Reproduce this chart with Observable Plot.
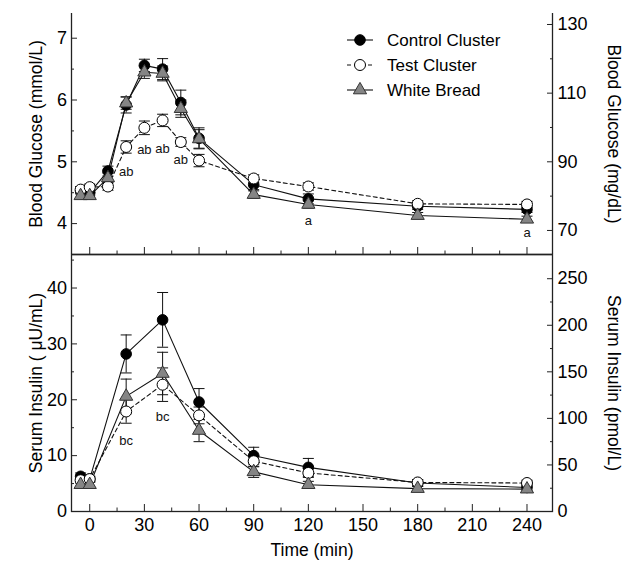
<!DOCTYPE html>
<html><head><meta charset="utf-8">
<script src="https://cdn.jsdelivr.net/npm/d3@7"></script>
<script src="https://cdn.jsdelivr.net/npm/@observablehq/plot@0.6"></script>
<style>
body{margin:0;background:#fff}
#c{position:relative;width:630px;height:564px}
#c>svg,#c>figure{position:absolute;left:0;top:0;margin:0}
</style>
</head><body><div id="c"></div>
<script>
// ---------- data ----------
const seriesNames = ["Control Cluster", "Test Cluster", "White Bread"];

const glucoseTimes = [-5, 0, 10, 20, 30, 40, 50, 60, 90, 120, 180, 240];
const glucoseControl = [4.53, 4.50, 4.85, 5.92, 6.56, 6.50, 5.96, 5.38, 4.63, 4.40, 4.28, 4.23];
const glucoseTest    = [4.55, 4.59, 4.60, 5.24, 5.55, 5.67, 5.32, 5.02, 4.73, 4.60, 4.32, 4.31];
const glucoseWhite   = [4.45, 4.45, 4.74, 5.95, 6.45, 6.43, 5.86, 5.37, 4.47, 4.31, 4.13, 4.07];
const glucoseControlSem = [0.05, 0.05, 0.08, 0.13, 0.10, 0.17, 0.20, 0.17, 0.08, 0.08, 0.05, 0.05];
const glucoseTestSem    = [0.05, 0.05, 0.06, 0.10, 0.11, 0.10, 0.07, 0.10, 0.06, 0.06, 0.05, 0.05];
const glucoseWhiteSem   = [0.05, 0.05, 0.08, 0.10, 0.10, 0.12, 0.14, 0.15, 0.06, 0.06, 0.05, 0.05];

const insulinTimes = [-5, 0, 20, 40, 60, 90, 120, 180, 240];
const insulinControl = [6.3, 5.8, 28.2, 34.3, 19.6, 10.0, 7.9, 5.1, 4.3];
const insulinTest    = [5.6, 5.8, 17.9, 22.7, 17.2, 9.0, 6.9, 5.2, 5.1];
const insulinWhite   = [4.8, 4.8, 20.6, 24.7, 14.5, 7.1, 4.8, 4.1, 4.0];
const insulinControlSem = [0.6, 0.5, 3.4, 4.9, 2.4, 1.5, 1.6, 0.6, 0.5];
const insulinTestSem    = [0.5, 0.5, 2.1, 3.0, 1.5, 1.0, 0.8, 0.5, 0.5];
const insulinWhiteSem   = [0.5, 0.5, 3.1, 3.8, 2.0, 1.0, 0.6, 0.4, 0.4];

// significance annotations (label, time, level)
const glucoseNoteLabels = ["ab", "ab", "ab", "ab", "a", "a"];
const glucoseNoteTimes  = [20, 30, 40, 50, 120, 240];
const glucoseNoteLevels = [4.83, 5.19, 5.21, 5.03, 4.05, 3.85];
const insulinNoteLabels = ["bc", "bc"];
const insulinNoteTimes  = [20, 40];
const insulinNoteLevels = [12.6, 17.0];

// tick labels
const timeTicks = [0, 30, 60, 90, 120, 150, 180, 210, 240];
const timeMinor = [15, 45, 75, 105, 135, 165, 195, 225];
const mmolTicks = [4, 5, 6, 7];
const mmolMinor = [4.5, 5.5, 6.5];
const mgdlTicks = [70, 90, 110, 130];
const mgdlMinor = [80, 100, 120];
const uUTicks = [0, 10, 20, 30, 40];
const uUMinor = [5, 15, 25, 35, 45];
const pmolTicks = [0, 50, 100, 150, 200, 250];
const pmolMinor = [25, 75, 125, 175, 225];

// ---------- helpers ----------
const rows = (times, vals, sems) => times.map((t, i) => ({t, v: vals[i], e: sems[i]}));
const notes = (labels, times, levels) => labels.map((l, i) => ({label: l, t: times[i], v: levels[i]}));
const capSymbol = {draw(ctx, size) { const w = Math.sqrt(size / Math.PI); ctx.moveTo(-w, 0); ctx.lineTo(w, 0); }};

const FONT = "Liberation Sans, Arial, Helvetica, sans-serif";
const AX = "#222";
const TICKFS = 18;
const TITLEFS = 17.5;
const xDomain = [-10, 254];

const styles = [
  {fill: "#000", stroke: "#000", symbol: "circle", r: 5.3, dash: null},
  {fill: "#fff", stroke: "#000", symbol: "circle", r: 5.5, dash: "4,3"},
  {fill: "#858585", stroke: "#333", symbol: "triangle", r: 4.9, dash: null}
];

function seriesMarks(data) {
  const m = [];
  data.forEach((d) => {
    m.push(Plot.ruleX(d, {x: "t", y1: r => r.v - r.e, y2: r => r.v + r.e, stroke: "#111", strokeWidth: 1}));
    m.push(Plot.dot(d, {x: "t", y: r => r.v + r.e, symbol: capSymbol, r: 5.5, stroke: "#111", fill: "none", strokeWidth: 1}));
    m.push(Plot.dot(d, {x: "t", y: r => r.v - r.e, symbol: capSymbol, r: 5.5, stroke: "#111", fill: "none", strokeWidth: 1}));
  });
  data.forEach((d, i) => {
    const s = styles[i];
    m.push(Plot.line(d, {x: "t", y: "v", stroke: "#111", strokeWidth: 1.1, strokeDasharray: s.dash}));
  });
  data.forEach((d, i) => {
    const s = styles[i];
    m.push(Plot.dot(d, {x: "t", y: "v", symbol: s.symbol, r: s.r, fill: s.fill, stroke: s.stroke, strokeWidth: 1}));
  });
  return m;
}

// ---------- top panel: glucose ----------
const gData = [
  rows(glucoseTimes, glucoseControl, glucoseControlSem),
  rows(glucoseTimes, glucoseTest, glucoseTestSem),
  rows(glucoseTimes, glucoseWhite, glucoseWhiteSem)
];
const glucosePlot = Plot.plot({
  width: 630, height: 564,
  marginTop: 13, marginBottom: 310, marginLeft: 71, marginRight: 78,
  style: {fontFamily: FONT, fontSize: TICKFS + "px", background: "transparent", overflow: "visible"},
  x: {domain: xDomain},
  y: {domain: [3.5, 7.4]},
  marks: [
    Plot.ruleX(xDomain, {stroke: AX, strokeWidth: 1.3}),
    Plot.ruleY([3.5], {stroke: AX, strokeWidth: 1.3}),
    Plot.axisY({anchor: "left", ticks: mmolTicks, tickFormat: d => String(d), tickSize: -6, tickPadding: 10.5, label: null, stroke: AX, fill: "#000", fontSize: TICKFS}),
    Plot.axisY({anchor: "left", ticks: mmolMinor, tickSize: -3, tickFormat: () => "", label: null, stroke: AX}),
    Plot.axisY({anchor: "right", ticks: mgdlTicks.map(d => d / 18), tickFormat: d => Math.round(d * 18), tickSize: -6, tickPadding: 11, label: null, stroke: AX, fill: "#000", fontSize: TICKFS}),
    Plot.axisY({anchor: "right", ticks: mgdlMinor.map(d => d / 18), tickSize: -3, tickFormat: () => "", label: null, stroke: AX}),
    Plot.axisX({anchor: "bottom", ticks: timeTicks, tickSize: -7, tickFormat: () => "", label: null, stroke: AX}),
    Plot.axisX({anchor: "bottom", ticks: timeMinor, tickSize: -3.5, tickFormat: () => "", label: null, stroke: AX}),
    ...seriesMarks(gData),
    Plot.text(notes(glucoseNoteLabels, glucoseNoteTimes, glucoseNoteLevels), {x: "t", y: "v", text: "label", fontSize: 13, fill: "#111"}),
    Plot.text(["Blood Glucose (mmol/L)"], {frameAnchor: "left", textAnchor: "middle", rotate: -90, dx: -35, fontSize: TITLEFS, fill: "#000"}),
    Plot.text(["Blood Glucose (mg/dL)"], {frameAnchor: "right", textAnchor: "middle", rotate: 90, dx: 61, fontSize: TITLEFS, fill: "#000"})
  ]
});

// ---------- bottom panel: insulin ----------
const iData = [
  rows(insulinTimes, insulinControl, insulinControlSem),
  rows(insulinTimes, insulinTest, insulinTestSem),
  rows(insulinTimes, insulinWhite, insulinWhiteSem)
];
const insulinPlot = Plot.plot({
  width: 630, height: 564,
  marginTop: 254, marginBottom: 53, marginLeft: 71, marginRight: 78,
  style: {fontFamily: FONT, fontSize: TICKFS + "px", background: "transparent", overflow: "visible"},
  x: {domain: xDomain},
  y: {domain: [0, 46]},
  marks: [
    Plot.frame({stroke: AX, strokeWidth: 1.3}),
    Plot.axisY({anchor: "left", ticks: uUTicks, tickSize: -6, tickPadding: 10.5, label: null, stroke: AX, fill: "#000", fontSize: TICKFS}),
    Plot.axisY({anchor: "left", ticks: uUMinor, tickSize: -3, tickFormat: () => "", label: null, stroke: AX}),
    Plot.axisY({anchor: "right", ticks: pmolTicks.map(d => d / 6), tickFormat: d => Math.round(d * 6), tickSize: -6, tickPadding: 11, label: null, stroke: AX, fill: "#000", fontSize: TICKFS}),
    Plot.axisY({anchor: "right", ticks: pmolMinor.map(d => d / 6), tickSize: -3, tickFormat: () => "", label: null, stroke: AX}),
    Plot.axisX({anchor: "bottom", ticks: timeTicks, tickSize: -7, tickPadding: 14, label: null, stroke: AX, fill: "#000", fontSize: TICKFS}),
    Plot.axisX({anchor: "bottom", ticks: timeMinor, tickSize: -3.5, tickFormat: () => "", label: null, stroke: AX}),
    ...seriesMarks(iData),
    Plot.text(notes(insulinNoteLabels, insulinNoteTimes, insulinNoteLevels), {x: "t", y: "v", text: "label", fontSize: 13, fill: "#111"}),
    Plot.text(["Serum Insulin ( \u03bcU/mL)"], {frameAnchor: "left", textAnchor: "middle", rotate: -90, dx: -35, fontSize: TITLEFS, fill: "#000"}),
    Plot.text(["Serum Insulin (pmol/L)"], {frameAnchor: "right", textAnchor: "middle", rotate: 90, dx: 61, fontSize: TITLEFS, fill: "#000"}),
    Plot.text(["Time (min)"], {frameAnchor: "bottom", lineAnchor: "middle", dy: 39, fontSize: TITLEFS, fill: "#000"})
  ]
});

const c = document.getElementById("c");
c.appendChild(glucosePlot);
c.appendChild(insulinPlot);

// ---------- legend ----------
const lg = d3.select(c).append("svg").attr("width", 630).attr("height", 564)
  .style("position", "absolute").style("left", 0).style("top", 0).style("pointer-events", "none");
const legendRowY = [40, 65, 90];
seriesNames.forEach((name, i) => {
  const s = styles[i], y = legendRowY[i];
  lg.append("line").attr("x1", 347).attr("x2", 373).attr("y1", y).attr("y2", y)
    .attr("stroke", "#111").attr("stroke-width", 1.1).attr("stroke-dasharray", s.dash);
  const sym = s.symbol === "triangle" ? d3.symbolTriangle : d3.symbolCircle;
  lg.append("path").attr("d", d3.symbol(sym, s.r * s.r * Math.PI)())
    .attr("transform", `translate(360,${y})`).attr("fill", s.fill).attr("stroke", s.stroke);
  lg.append("text").attr("x", 387).attr("y", y).attr("dy", "0.35em")
    .attr("font-family", FONT).attr("font-size", 17).attr("fill", "#000").text(name);
});
</script>
</body></html>
